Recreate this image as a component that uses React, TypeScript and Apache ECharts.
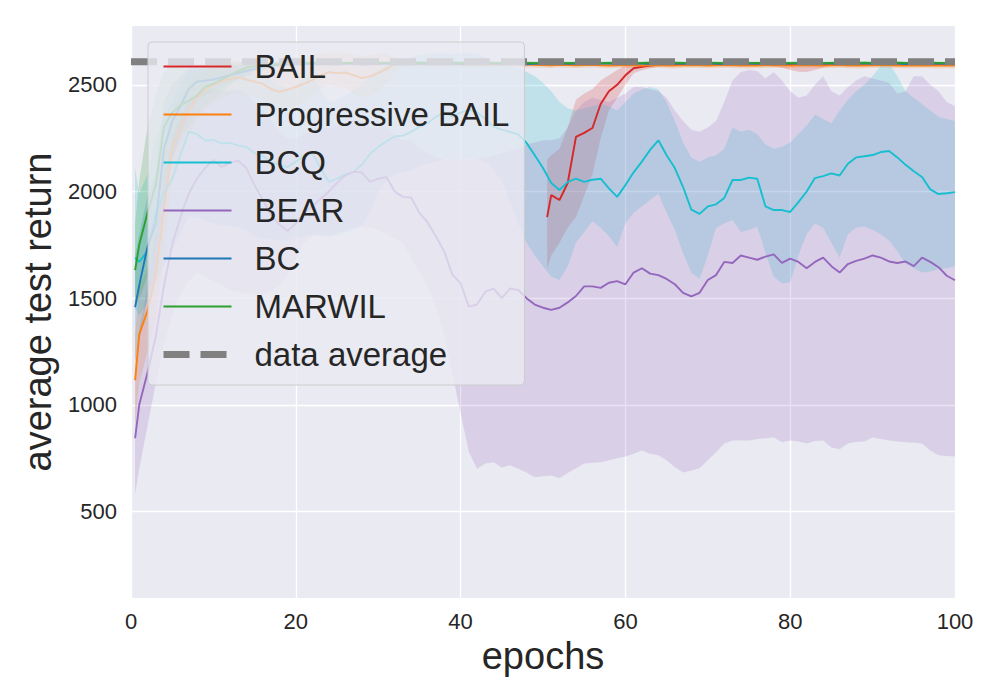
import React, { useEffect, useRef } from 'react';
import * as echarts from 'echarts';

const FONT = '"Liberation Sans", Arial, sans-serif';
const TEXT = '#262626';

const EPOCHS = [0.5, 1, 2, 3, 4, 5, 6, 7, 8, 9,
  10, 11, 12, 13, 14, 15, 16, 17, 18, 19,
  20, 21, 22, 23, 24, 25, 26, 27, 28, 29,
  30, 31, 32, 33, 34, 35, 36, 37, 38, 39,
  40, 41, 42, 43, 44, 45, 46, 47, 48, 49,
  50, 51, 52, 53, 54, 55, 56, 57, 58, 59,
  60, 61, 62, 63, 64, 65, 66, 67, 68, 69,
  70, 71, 72, 73, 74, 75, 76, 77, 78, 79,
  80, 81, 82, 83, 84, 85, 86, 87, 88, 89,
  90, 91, 92, 93, 94, 95, 96, 97, 98, 99,
  100];

const BAIL_EPOCHS = [50.5, 51, 52, 53, 54, 55, 56, 57, 58, 59,
  60, 61, 62, 63, 64, 65, 66, 67, 68, 69,
  70, 71, 72, 73, 74, 75, 76, 77, 78, 79,
  80, 81, 82, 83, 84, 85, 86, 87, 88, 89,
  90, 91, 92, 93, 94, 95, 96, 97, 98, 99,
  100];

const BAIL_MEAN = [1880, 1983, 1960, 2040, 2256, 2275, 2298, 2410, 2470, 2500,
  2545, 2578, 2585, 2590, 2594, 2596, 2597, 2598, 2598, 2599,
  2599, 2600, 2599, 2598, 2599, 2600, 2600, 2599, 2598, 2597,
  2596, 2594, 2593, 2595, 2597, 2599, 2600, 2600, 2599, 2600,
  2600, 2599, 2600, 2601, 2600, 2599, 2600, 2600, 2599, 2600,
  2600];
const BAIL_LO = [1640, 1700, 1760, 1830, 1880, 1980, 2080, 2250, 2380, 2440,
  2500, 2555, 2568, 2578, 2585, 2588, 2590, 2591, 2590, 2591,
  2591, 2592, 2590, 2588, 2590, 2592, 2592, 2590, 2586, 2580,
  2570, 2562, 2560, 2570, 2582, 2590, 2592, 2592, 2590, 2592,
  2592, 2590, 2592, 2593, 2592, 2590, 2592, 2592, 2590, 2592,
  2592];
const BAIL_HI = [2150, 2170, 2200, 2300, 2430, 2460, 2480, 2520, 2545, 2570,
  2590, 2600, 2602, 2603, 2604, 2604, 2605, 2605, 2606, 2606,
  2606, 2607, 2607, 2606, 2607, 2607, 2607, 2607, 2606, 2606,
  2605, 2604, 2604, 2605, 2606, 2607, 2607, 2607, 2607, 2607,
  2607, 2607, 2607, 2608, 2607, 2607, 2607, 2607, 2607, 2607,
  2607];

const PBAIL_MEAN = [1115, 1330, 1440, 1610, 1920, 2200, 2300, 2380, 2440, 2477,
  2500, 2515, 2528, 2535, 2525, 2515, 2505, 2480, 2467, 2478,
  2490, 2505, 2523, 2545, 2560, 2555, 2558, 2545, 2532, 2540,
  2555, 2575, 2598, 2600, 2599, 2598, 2600, 2597, 2598, 2599,
  2597, 2596, 2598, 2597, 2596, 2597, 2598, 2596, 2595, 2594,
  2593, 2592, 2594, 2593, 2592, 2593, 2594, 2592, 2591, 2592,
  2593, 2592, 2591, 2592, 2593, 2591, 2590, 2592, 2593, 2592,
  2591, 2592, 2593, 2592, 2591, 2590, 2591, 2592, 2593, 2592,
  2591, 2592, 2593, 2592, 2591, 2592, 2593, 2591, 2590, 2591,
  2592, 2593, 2592, 2591, 2590, 2591, 2592, 2591, 2590, 2591,
  2590];
const PBAIL_LO = [900, 1100, 1250, 1400, 1700, 2030, 2150, 2250, 2330, 2380,
  2410, 2430, 2450, 2460, 2450, 2440, 2430, 2400, 2380, 2390,
  2400, 2420, 2450, 2480, 2500, 2490, 2490, 2460, 2440, 2450,
  2470, 2510, 2560, 2585, 2586, 2585, 2587, 2584, 2585, 2586,
  2584, 2583, 2585, 2584, 2583, 2584, 2585, 2583, 2582, 2581,
  2580, 2579, 2581, 2580, 2579, 2580, 2581, 2579, 2578, 2579,
  2580, 2579, 2578, 2579, 2580, 2578, 2577, 2579, 2580, 2579,
  2578, 2579, 2580, 2579, 2578, 2577, 2578, 2579, 2580, 2579,
  2578, 2579, 2580, 2579, 2578, 2579, 2580, 2578, 2577, 2578,
  2579, 2580, 2579, 2578, 2577, 2578, 2579, 2578, 2577, 2578,
  2577];
const PBAIL_HI = [1330, 1550, 1640, 1820, 2150, 2370, 2450, 2510, 2540, 2570,
  2590, 2600, 2610, 2615, 2610, 2605, 2600, 2590, 2585, 2600,
  2610, 2625, 2640, 2645, 2650, 2650, 2650, 2645, 2635, 2640,
  2645, 2648, 2630, 2615, 2612, 2611, 2612, 2610, 2611, 2612,
  2610, 2609, 2611, 2610, 2609, 2610, 2611, 2609, 2608, 2607,
  2606, 2605, 2607, 2606, 2605, 2606, 2607, 2605, 2604, 2605,
  2606, 2605, 2604, 2605, 2606, 2604, 2603, 2605, 2606, 2605,
  2604, 2605, 2606, 2605, 2604, 2603, 2604, 2605, 2606, 2605,
  2604, 2605, 2606, 2605, 2604, 2605, 2606, 2604, 2603, 2604,
  2605, 2606, 2605, 2604, 2603, 2604, 2605, 2604, 2603, 2604,
  2603];

const BCQ_MEAN = [1690, 1670, 1720, 1900, 1990, 2060, 2170, 2280, 2270, 2238,
  2242, 2225, 2228, 2215, 2209, 2180, 2165, 2140, 2125, 2115,
  2140, 2165, 2181, 2110, 2045, 2060, 2080, 2092, 2125, 2175,
  2210, 2235, 2258, 2262, 2280, 2303, 2320, 2350, 2373, 2350,
  2370, 2383, 2372, 2340, 2303, 2290, 2279, 2268, 2228, 2170,
  2110, 2040, 2007, 2045, 2060, 2045, 2055, 2060, 2015, 1975,
  2030, 2090, 2140, 2195, 2240, 2170, 2110, 2021, 1915, 1895,
  1930, 1940, 1970, 2054, 2054, 2065, 2060, 1930, 1913, 1913,
  1904, 1950, 2000, 2063, 2072, 2085, 2075, 2130, 2160, 2165,
  2171, 2185, 2190, 2160, 2125, 2095, 2068, 2010, 1988, 1992,
  1997];
const BCQ_LO = [1450, 1420, 1480, 1580, 1650, 1720, 1800, 1880, 1880, 1860,
  1850, 1840, 1840, 1830, 1820, 1790, 1780, 1775, 1770, 1770,
  1780, 1790, 1800, 1790, 1788, 1795, 1805, 1820, 1840, 1900,
  2000, 2050, 2080, 2090, 2100, 2120, 2130, 2140, 2150, 2150,
  2150, 2155, 2150, 2140, 2100, 2050, 1950, 1850, 1760, 1700,
  1650, 1600, 1585, 1650, 1760, 1810, 1860, 1830, 1790, 1740,
  1850, 1900, 1930, 1960, 1990, 1900, 1820, 1711, 1620, 1590,
  1700, 1830, 1850, 1866, 1810, 1820, 1836, 1711, 1600, 1570,
  1575, 1700, 1800, 1850, 1830, 1760, 1690, 1800, 1830, 1836,
  1820, 1800, 1770, 1720, 1660, 1640, 1620, 1625, 1636, 1640,
  1650];
const BCQ_HI = [2110, 1990, 2080, 2250, 2350, 2420, 2500, 2570, 2580, 2570,
  2570, 2560, 2570, 2560, 2560, 2550, 2540, 2520, 2500, 2480,
  2500, 2530, 2550, 2480, 2420, 2430, 2450, 2470, 2500, 2540,
  2570, 2590, 2610, 2620, 2630, 2640, 2645, 2650, 2650, 2640,
  2650, 2650, 2645, 2630, 2610, 2600, 2590, 2580, 2560, 2540,
  2510, 2470, 2420, 2390, 2380, 2390, 2400, 2410, 2400, 2380,
  2420, 2460, 2480, 2490, 2480, 2420, 2330, 2230, 2160, 2140,
  2160, 2170, 2200, 2300, 2280, 2290, 2270, 2220, 2200, 2210,
  2230, 2270, 2310, 2360, 2340, 2320, 2380, 2430, 2470, 2500,
  2540, 2590, 2600, 2540, 2470, 2440, 2410, 2380, 2350, 2340,
  2330];

const BEAR_MEAN = [843, 1000, 1150, 1320, 1560, 1750, 1880, 1990, 2060, 2110,
  2148, 2115, 2134, 2145, 2110, 2030, 1960, 1890, 1845, 1815,
  1850, 1900, 1930, 1965, 2000, 2040, 2075, 2092, 2090, 2045,
  2060, 2068, 2000, 1975, 1972, 1900, 1855, 1790, 1720, 1610,
  1570, 1460, 1470, 1530, 1545, 1500, 1545, 1538, 1500, 1470,
  1455, 1445, 1455, 1480, 1510, 1555, 1555, 1548, 1572, 1580,
  1565, 1620, 1640, 1615, 1608, 1590, 1565, 1525, 1508, 1525,
  1585, 1608, 1670, 1665, 1700, 1690, 1680, 1695, 1705, 1665,
  1685, 1670, 1640, 1670, 1690, 1650, 1620, 1660, 1675, 1685,
  1700, 1690, 1672, 1665, 1672, 1650, 1690, 1670, 1645, 1605,
  1584];
const BEAR_LO = [580, 700, 900, 1100, 1280, 1420, 1520, 1580, 1620, 1600,
  1580, 1560, 1540, 1530, 1520, 1520, 1520, 1530, 1560, 1610,
  1680, 1760, 1790, 1800, 1790, 1805, 1815, 1830, 1835, 1830,
  1820, 1800, 1780, 1760, 1690, 1620, 1560, 1460, 1330, 1150,
  960, 780, 700, 725, 730, 706, 716, 700, 683, 660,
  665, 668, 655, 680, 702, 725, 728, 730, 740, 749,
  758, 770, 786, 770, 763, 740, 707, 683, 692, 702,
  740, 777, 819, 833, 833, 833, 840, 843, 847, 824,
  833, 828, 819, 830, 833, 800, 791, 819, 825, 828,
  847, 840, 833, 828, 824, 822, 819, 786, 763, 760,
  758];
const BEAR_HI = [1150, 1350, 1550, 1800, 2050, 2250, 2350, 2420, 2450, 2470,
  2480, 2470, 2470, 2480, 2460, 2420, 2380, 2330, 2280, 2250,
  2250, 2270, 2290, 2300, 2300, 2310, 2320, 2340, 2330, 2300,
  2300, 2310, 2260, 2240, 2240, 2200, 2180, 2160, 2150, 2150,
  2150, 2150, 2150, 2160, 2170, 2180, 2190, 2200, 2220, 2230,
  2240, 2240, 2250, 2300, 2380, 2420, 2440, 2430, 2420, 2440,
  2460, 2490, 2490, 2480, 2470, 2440, 2380, 2330, 2290, 2280,
  2300, 2330, 2420, 2520, 2560, 2570, 2565, 2530, 2560, 2520,
  2470, 2440, 2450, 2500, 2540, 2470, 2450, 2490, 2520, 2540,
  2530, 2520, 2510, 2460, 2470, 2540, 2540, 2500, 2470, 2420,
  2400];

const BC_MEAN = [1458, 1560, 1740, 1850, 2200, 2330, 2400, 2480, 2515, 2520,
  2525, 2535, 2545, 2555, 2565, 2575, 2585, 2590, 2595, 2597,
  2598, 2600, 2599, 2601, 2600, 2598, 2600, 2601, 2599, 2600,
  2601, 2600, 2598, 2599, 2601, 2600, 2599, 2600, 2601, 2600,
  2599, 2598, 2600, 2601, 2600, 2599, 2600, 2600, 2598, 2599,
  2600, 2601, 2600, 2599, 2600, 2598, 2599, 2600, 2601, 2600,
  2599, 2600, 2600, 2598, 2599, 2601, 2600, 2599, 2600, 2600,
  2601, 2599, 2598, 2600, 2601, 2600, 2599, 2600, 2598, 2599,
  2600, 2601, 2600, 2599, 2600, 2600, 2598, 2599, 2601, 2600,
  2599, 2600, 2601, 2600, 2598, 2599, 2600, 2601, 2600, 2599,
  2600];
const BC_LO = [1200, 1300, 1500, 1620, 1950, 2150, 2250, 2370, 2430, 2450,
  2470, 2490, 2510, 2525, 2540, 2555, 2570, 2578, 2585, 2588,
  2590, 2592, 2591, 2593, 2592, 2590, 2592, 2593, 2591, 2592,
  2593, 2592, 2590, 2591, 2593, 2592, 2591, 2592, 2593, 2592,
  2591, 2590, 2592, 2593, 2592, 2591, 2592, 2592, 2590, 2591,
  2592, 2593, 2592, 2591, 2592, 2590, 2591, 2592, 2593, 2592,
  2591, 2592, 2592, 2590, 2591, 2593, 2592, 2591, 2592, 2592,
  2593, 2591, 2590, 2592, 2593, 2592, 2591, 2592, 2590, 2591,
  2592, 2593, 2592, 2591, 2592, 2592, 2590, 2591, 2593, 2592,
  2591, 2592, 2593, 2592, 2590, 2591, 2592, 2593, 2592, 2591,
  2592];
const BC_HI = [1700, 1800, 1980, 2080, 2420, 2500, 2540, 2580, 2590, 2590,
  2585, 2585, 2590, 2592, 2595, 2600, 2603, 2605, 2606, 2606,
  2605, 2607, 2606, 2608, 2607, 2605, 2607, 2608, 2606, 2607,
  2608, 2607, 2605, 2606, 2608, 2607, 2606, 2607, 2608, 2607,
  2606, 2605, 2607, 2608, 2607, 2606, 2607, 2607, 2605, 2606,
  2607, 2608, 2607, 2606, 2607, 2605, 2606, 2607, 2608, 2607,
  2606, 2607, 2607, 2605, 2606, 2608, 2607, 2606, 2607, 2607,
  2608, 2606, 2605, 2607, 2608, 2607, 2606, 2607, 2605, 2606,
  2607, 2608, 2607, 2606, 2607, 2607, 2605, 2606, 2608, 2607,
  2606, 2607, 2608, 2607, 2605, 2606, 2607, 2608, 2607, 2606,
  2607];

const MARWIL_MEAN = [1631, 1750, 1900, 2030, 2303, 2370, 2405, 2425, 2450, 2490,
  2505, 2525, 2545, 2565, 2580, 2588, 2592, 2595, 2597, 2599,
  2601, 2602, 2603, 2602, 2604, 2603, 2602, 2603, 2604, 2603,
  2602, 2603, 2604, 2602, 2603, 2604, 2603, 2602, 2603, 2604,
  2603, 2602, 2604, 2603, 2602, 2603, 2604, 2603, 2603, 2602,
  2603, 2604, 2603, 2602, 2603, 2603, 2604, 2602, 2603, 2604,
  2603, 2602, 2603, 2604, 2603, 2602, 2604, 2603, 2602, 2603,
  2604, 2603, 2602, 2603, 2604, 2603, 2602, 2603, 2604, 2603,
  2602, 2603, 2604, 2603, 2602, 2603, 2604, 2602, 2603, 2604,
  2603, 2602, 2603, 2604, 2603, 2602, 2603, 2604, 2603, 2602,
  2603];
const MARWIL_LO = [1450, 1500, 1600, 1750, 2050, 2150, 2250, 2300, 2350, 2400,
  2430, 2460, 2500, 2530, 2550, 2565, 2575, 2580, 2585, 2590,
  2594, 2595, 2596, 2595, 2597, 2596, 2595, 2596, 2597, 2596,
  2595, 2596, 2597, 2595, 2596, 2597, 2596, 2595, 2596, 2597,
  2596, 2595, 2597, 2596, 2595, 2596, 2597, 2596, 2596, 2595,
  2596, 2597, 2596, 2595, 2596, 2596, 2597, 2595, 2596, 2597,
  2596, 2595, 2596, 2597, 2596, 2595, 2597, 2596, 2595, 2596,
  2597, 2596, 2595, 2596, 2597, 2596, 2595, 2596, 2597, 2596,
  2595, 2596, 2597, 2596, 2595, 2596, 2597, 2595, 2596, 2597,
  2596, 2595, 2596, 2597, 2596, 2595, 2596, 2597, 2596, 2595,
  2596];
const MARWIL_HI = [1850, 2050, 2300, 2450, 2560, 2590, 2580, 2570, 2570, 2580,
  2590, 2595, 2600, 2605, 2610, 2612, 2610, 2610, 2610, 2610,
  2608, 2609, 2610, 2609, 2611, 2610, 2609, 2610, 2611, 2610,
  2609, 2610, 2611, 2609, 2610, 2611, 2610, 2609, 2610, 2611,
  2610, 2609, 2611, 2610, 2609, 2610, 2611, 2610, 2610, 2609,
  2610, 2611, 2610, 2609, 2610, 2610, 2611, 2609, 2610, 2611,
  2610, 2609, 2610, 2611, 2610, 2609, 2611, 2610, 2609, 2610,
  2611, 2610, 2609, 2610, 2611, 2610, 2609, 2610, 2611, 2610,
  2609, 2610, 2611, 2610, 2609, 2610, 2611, 2609, 2610, 2611,
  2610, 2609, 2610, 2611, 2610, 2609, 2610, 2611, 2610, 2609,
  2610];

const DATA_AVG_X = [0, 100];
const DATA_AVG_Y = [2608, 2608];

const Y_TICKS = [500, 1000, 1500, 2000, 2500];

const NAMES = ['BAIL', 'Progressive BAIL', 'BCQ', 'BEAR', 'BC', 'MARWIL', 'data average'];

function band(name: string, xs: number[], lo: number[], hi: number[], color: string) {
  return {
    type: 'custom',
    name,
    silent: true,
    clip: true,
    z: 1,
    data: xs.map((x, i) => [x, lo[i], hi[i]]),
    encode: { x: 0, y: [1, 2] },
    renderItem: (params: any, api: any) => {
      if (params.dataIndex !== 0) return null;
      const pts: number[][] = [];
      for (let i = 0; i < xs.length; i++) pts.push(api.coord([xs[i], hi[i]]));
      for (let i = xs.length - 1; i >= 0; i--) pts.push(api.coord([xs[i], lo[i]]));
      return { type: 'polygon', shape: { points: pts }, style: { fill: color } };
    },
  };
}

function line(name: string, xs: number[], ys: number[], color: string) {
  return {
    type: 'line',
    name,
    silent: true,
    z: 2,
    symbol: 'none',
    showSymbol: false,
    data: xs.map((x, i) => [x, ys[i]]),
    lineStyle: { color, width: 1.9 },
    itemStyle: { color },
  };
}

export default function App() {
  const ref = useRef<HTMLDivElement>(null);
  useEffect(() => {
    const chart = echarts.init(ref.current as HTMLDivElement, null, { renderer: 'svg' });
    const option: any = {
      animation: false,
      backgroundColor: '#ffffff',
      textStyle: { fontFamily: FONT },
      grid: {
        left: 131, right: 45, top: 26, bottom: 102,
        show: true, backgroundColor: '#EAEAF2', borderWidth: 0,
        containLabel: false, outerBoundsMode: 'none',
      },
      xAxis: {
        type: 'value', min: 0, max: 100, interval: 20,
        axisLine: { show: false }, axisTick: { show: false },
        axisLabel: { fontSize: 22, color: TEXT, margin: 12, fontFamily: FONT },
        splitLine: { show: true, lineStyle: { color: '#ffffff', width: 1.3 } },
        name: 'epochs', nameLocation: 'middle', nameGap: 38,
        nameTextStyle: { fontSize: 38, color: TEXT, fontFamily: FONT },
      },
      yAxis: {
        type: 'value', min: 94, max: 2776,
        axisLine: { show: false },
        axisTick: { show: false, customValues: Y_TICKS },
        axisLabel: {
          customValues: Y_TICKS, fontSize: 22, color: TEXT, margin: 14, fontFamily: FONT,
          formatter: (v: number) => String(v),
        },
        splitLine: { show: true, lineStyle: { color: '#ffffff', width: 1.3 } },
        name: 'average test return', nameLocation: 'middle', nameGap: 72,
        nameTextStyle: { fontSize: 38, color: TEXT, fontFamily: FONT },
      },
      legend: {
        orient: 'vertical', left: 148, top: 42,
        padding: [8, 15, 14, 12],
        itemWidth: 68, itemHeight: 14, itemGap: 15,
        backgroundColor: 'rgba(234,234,242,0.8)',
        borderColor: '#cccccc', borderWidth: 1, borderRadius: 4,
        itemStyle: { opacity: 0 },
        textStyle: { fontSize: 33, lineHeight: 33, color: TEXT, fontFamily: FONT, padding: [0, 0, 0, 18] },
        data: [
          NAMES[0], NAMES[1], NAMES[2], NAMES[3], NAMES[4], NAMES[5],
          { name: NAMES[6], lineStyle: { width: 7 } },
        ],
        selectedMode: false,
      },
      series: [
        band('BAIL band', BAIL_EPOCHS, BAIL_LO, BAIL_HI, 'rgba(214,39,40,0.2)'),
        band('Progressive BAIL band', EPOCHS, PBAIL_LO, PBAIL_HI, 'rgba(255,127,14,0.2)'),
        band('BCQ band', EPOCHS, BCQ_LO, BCQ_HI, 'rgba(23,190,207,0.2)'),
        band('BEAR band', EPOCHS, BEAR_LO, BEAR_HI, 'rgba(148,103,189,0.2)'),
        band('BC band', EPOCHS, BC_LO, BC_HI, 'rgba(31,119,180,0.2)'),
        band('MARWIL band', EPOCHS, MARWIL_LO, MARWIL_HI, 'rgba(44,160,44,0.2)'),
        line('BAIL', BAIL_EPOCHS, BAIL_MEAN, '#d62728'),
        line('Progressive BAIL', EPOCHS, PBAIL_MEAN, '#ff7f0e'),
        line('BCQ', EPOCHS, BCQ_MEAN, '#17becf'),
        line('BEAR', EPOCHS, BEAR_MEAN, '#9467bd'),
        line('BC', EPOCHS, BC_MEAN, '#1f77b4'),
        line('MARWIL', EPOCHS, MARWIL_MEAN, '#2ca02c'),
        {
          type: 'line', name: 'data average', silent: true, z: 3,
          symbol: 'none', showSymbol: false,
          data: DATA_AVG_X.map((x, i) => [x, DATA_AVG_Y[i]]),
          lineStyle: { color: '#808080', width: 7, type: [26, 11] },
          itemStyle: { color: '#808080' },
        },
      ],
    };
    chart.setOption(option);
    return () => chart.dispose();
  }, []);
  return (
    <div
      ref={ref}
      style={{ position: 'fixed', left: 0, top: 0, width: 1000, height: 700, background: '#ffffff' }}
    />
  );
}
